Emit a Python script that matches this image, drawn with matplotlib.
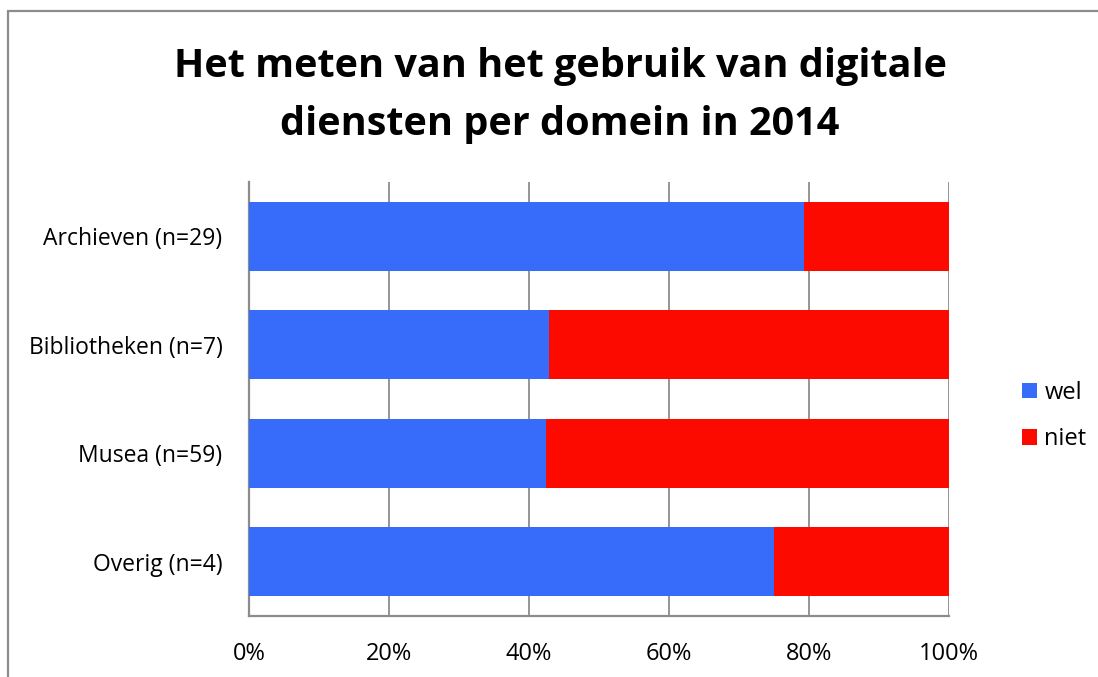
import matplotlib.pyplot as plt
from matplotlib.patches import Rectangle
from matplotlib.ticker import PercentFormatter

categories = ["Archieven (n=29)", "Bibliotheken (n=7)", "Musea (n=59)", "Overig (n=4)"]
wel = [79.3, 42.9, 42.4, 75.0]
niet = [20.7, 57.1, 57.6, 25.0]

BLUE = "#376BFA"
RED = "#FC0A00"
GRID = "#8C8C8C"

plt.rcParams["font.family"] = ["Open Sans", "DejaVu Sans"]

fig = plt.figure(figsize=(10.98, 6.77), dpi=100)
fig.patch.set_facecolor("white")

# chart-area border (runs off the right and bottom edge)
fig.patches.append(Rectangle((8 / 1098, -0.1), 1.2, 1 - 10.5 / 677 + 0.1,
                             transform=fig.transFigure, fill=False,
                             edgecolor="#8C8C8C", linewidth=1.6))

ax = fig.add_axes([249 / 1098, 1 - 616 / 677, 700 / 1098, 434 / 677])
y = list(range(len(categories)))
ax.barh(y, wel, height=0.64, color=BLUE, label="wel", zorder=3)
ax.barh(y, niet, left=wel, height=0.64, color=RED, label="niet", zorder=3)

ax.set_xlim(0, 100)
ax.set_ylim(len(categories) - 0.5, -0.5)
ax.set_yticks(y)
ax.set_yticklabels(categories, fontsize=16.5)
ax.set_xticks([0, 20, 40, 60, 80, 100])
ax.xaxis.set_major_formatter(PercentFormatter(decimals=0))
ax.tick_params(axis="x", labelsize=17, length=0, pad=19)
ax.tick_params(axis="y", length=0, pad=19)
ax.grid(axis="x", color=GRID, linewidth=1.3, zorder=0)
for side in ["top", "right"]:
    ax.spines[side].set_visible(False)
for side in ["left", "bottom"]:
    ax.spines[side].set_color(GRID)
    ax.spines[side].set_linewidth(1.6)

fig.text(560 / 1098, 1 - 66 / 677, "Het meten van het gebruik van digitale",
         ha="center", va="center", fontsize=28.5, fontweight="bold")
fig.text(560 / 1098, 1 - 125 / 677, "diensten per domein in 2014",
         ha="center", va="center", fontsize=28.5, fontweight="bold")

fig.legend(loc="center left", bbox_to_anchor=(1022 / 1098, 1 - 416 / 677), frameon=False,
           fontsize=17, handlelength=0.65, handleheight=0.65, handletextpad=0.3,
           labelspacing=0.95, borderpad=0, borderaxespad=0)

fig.savefig("out.png", dpi=100, facecolor="white")
